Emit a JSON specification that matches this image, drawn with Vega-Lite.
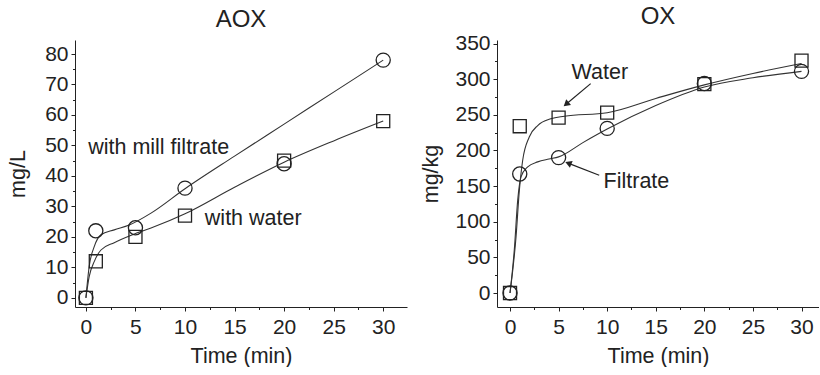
{
  "$schema": "https://vega.github.io/schema/vega-lite/v6.json",
  "padding": {"left": 7, "top": 4, "right": 0, "bottom": 0},
  "background": "white",
  "spacing": 90,
  "bounds": "flush",
  "config": {
    "font": "Liberation Sans",
    "view": {"stroke": null},
    "axis": {
      "grid": false,
      "domainColor": "#222",
      "tickColor": "#222",
      "domainWidth": 1,
      "tickWidth": 1,
      "tickSize": 4,
      "labelOverlap": false,
      "labelFlush": false,
      "labelFont": "Liberation Sans",
      "labelFontSize": 21,
      "labelColor": "#222",
      "titleFont": "Liberation Sans",
      "titleFontSize": 21.5,
      "titleFontWeight": "normal",
      "titleColor": "#222"
    },
    "title": {"font": "Liberation Sans", "fontSize": 24, "fontWeight": "normal", "color": "#222"}
  },
  "datasets": {
    "aoxPts": [
      {"series": "filtrate", "t": 0, "v": 0},
      {"series": "filtrate", "t": 1, "v": 22},
      {"series": "filtrate", "t": 5, "v": 23},
      {"series": "filtrate", "t": 10, "v": 36},
      {"series": "filtrate", "t": 20, "v": 44},
      {"series": "filtrate", "t": 30, "v": 78},
      {"series": "water", "t": 0, "v": 0},
      {"series": "water", "t": 1, "v": 12},
      {"series": "water", "t": 5, "v": 20},
      {"series": "water", "t": 10, "v": 27},
      {"series": "water", "t": 20, "v": 45},
      {"series": "water", "t": 30, "v": 58}
    ],
    "aoxCurve": [
      {"series": "filtrate", "t": 0, "v": 0},
      {"series": "filtrate", "t": 0.33, "v": 10.3},
      {"series": "filtrate", "t": 0.84, "v": 16.8},
      {"series": "filtrate", "t": 1.52, "v": 20.7},
      {"series": "filtrate", "t": 2.86, "v": 22.3},
      {"series": "filtrate", "t": 4.37, "v": 23.9},
      {"series": "filtrate", "t": 6.57, "v": 27.8},
      {"series": "filtrate", "t": 10, "v": 35.8},
      {"series": "filtrate", "t": 15, "v": 46.5},
      {"series": "filtrate", "t": 20, "v": 57},
      {"series": "filtrate", "t": 25, "v": 67.5},
      {"series": "filtrate", "t": 30, "v": 78},
      {"series": "water", "t": 0, "v": 0},
      {"series": "water", "t": 0.33, "v": 7},
      {"series": "water", "t": 0.84, "v": 11.9},
      {"series": "water", "t": 1.52, "v": 15.7},
      {"series": "water", "t": 2.86, "v": 18.1},
      {"series": "water", "t": 4.7, "v": 20.7},
      {"series": "water", "t": 6.57, "v": 22.9},
      {"series": "water", "t": 10, "v": 27.6},
      {"series": "water", "t": 15, "v": 36.3},
      {"series": "water", "t": 20, "v": 44.5},
      {"series": "water", "t": 25, "v": 51.5},
      {"series": "water", "t": 30, "v": 58}
    ],
    "aoxText": [
      {"label": "with mill filtrate", "t": 0.23, "v": 47.2},
      {"label": "with water", "t": 12.0, "v": 23.9}
    ],
    "oxPts": [
      {"series": "filtrate", "t": 0, "v": 0},
      {"series": "filtrate", "t": 1, "v": 167},
      {"series": "filtrate", "t": 5, "v": 190},
      {"series": "filtrate", "t": 10, "v": 231},
      {"series": "filtrate", "t": 20, "v": 294},
      {"series": "filtrate", "t": 30, "v": 311},
      {"series": "water", "t": 0, "v": 0},
      {"series": "water", "t": 1, "v": 234},
      {"series": "water", "t": 5, "v": 246},
      {"series": "water", "t": 10, "v": 253},
      {"series": "water", "t": 20, "v": 293},
      {"series": "water", "t": 30, "v": 326}
    ],
    "oxCurve": [
      {"series": "water", "t": 0, "v": 0},
      {"series": "water", "t": 0.62, "v": 79},
      {"series": "water", "t": 0.96, "v": 144},
      {"series": "water", "t": 1.3, "v": 186},
      {"series": "water", "t": 1.98, "v": 219},
      {"series": "water", "t": 2.85, "v": 235},
      {"series": "water", "t": 4.2, "v": 244.5},
      {"series": "water", "t": 5.6, "v": 248},
      {"series": "water", "t": 10, "v": 253},
      {"series": "water", "t": 15, "v": 273},
      {"series": "water", "t": 20, "v": 292},
      {"series": "water", "t": 25, "v": 308},
      {"series": "water", "t": 30, "v": 322},
      {"series": "filtrate", "t": 0, "v": 0},
      {"series": "filtrate", "t": 0.44, "v": 60.5},
      {"series": "filtrate", "t": 0.79, "v": 130},
      {"series": "filtrate", "t": 1.13, "v": 163},
      {"series": "filtrate", "t": 1.82, "v": 177},
      {"series": "filtrate", "t": 2.85, "v": 184},
      {"series": "filtrate", "t": 4, "v": 188},
      {"series": "filtrate", "t": 5, "v": 191},
      {"series": "filtrate", "t": 7.5, "v": 211},
      {"series": "filtrate", "t": 10, "v": 230},
      {"series": "filtrate", "t": 15, "v": 263},
      {"series": "filtrate", "t": 20, "v": 289},
      {"series": "filtrate", "t": 25, "v": 302},
      {"series": "filtrate", "t": 30, "v": 311}
    ],
    "oxText": [
      {"label": "Water", "t": 6.34, "v": 300.4},
      {"label": "Filtrate", "t": 9.63, "v": 146.7}
    ],
    "oxArrows": [
      {"label": "Water", "t1": 8.3, "v1": 293.8, "t2": 5.86, "v2": 265.9},
      {"label": "Filtrate", "t1": 9.18, "v1": 165.3, "t2": 6.1, "v2": 181.6}
    ]
  },
  "hconcat": [
    {
      "width": 332,
      "height": 267,
      "title": {"text": "AOX", "offset": 8},
      "layer": [
        {
          "data": {"name": "aoxCurve"},
          "mark": {"type": "line", "color": "#333", "strokeWidth": 1.1, "interpolate": "monotone"},
          "encoding": {
            "x": {
              "field": "t", "type": "quantitative",
              "scale": {"domain": [-1.1, 32.4], "nice": false, "zero": false},
              "axis": {"title": "Time (min)", "values": [0, 2.5, 5, 7.5, 10, 12.5, 15, 17.5, 20, 22.5, 25, 27.5, 30],
                       "tickCount": 100, "labelOverlap": false, "format": "d",
                       "tickSize": {"condition": {"test": "datum.value % 5 === 0", "value": 4}, "value": 2.5},
                       "labelExpr": "datum.value % 5 === 0 ? datum.label : ''", "labelPadding": 5, "titlePadding": 8}
            },
            "y": {
              "field": "v", "type": "quantitative",
              "scale": {"domain": [-3, 84.6], "nice": false, "zero": false},
              "axis": {"title": "mg/L", "values": [0, 5, 10, 15, 20, 25, 30, 35, 40, 45, 50, 55, 60, 65, 70, 75, 80],
                       "tickCount": 100, "labelOverlap": false,
                       "tickSize": {"condition": {"test": "datum.value % 10 === 0", "value": 4}, "value": 2.5},
                       "labelExpr": "datum.value % 10 === 0 ? datum.label : ''", "labelPadding": 3, "titlePadding": 15}
            },
            "detail": {"field": "series"}
          }
        },
        {
          "data": {"name": "aoxPts"},
          "mark": {"type": "point", "filled": false, "color": "#222", "strokeWidth": 1.3, "opacity": 1},
          "encoding": {
            "x": {"field": "t", "type": "quantitative"},
            "y": {"field": "v", "type": "quantitative"},
            "shape": {"field": "series", "type": "nominal", "scale": {"domain": ["filtrate", "water"], "range": ["circle", "square"]}, "legend": null},
            "size": {"field": "series", "type": "nominal", "scale": {"domain": ["filtrate", "water"], "range": [200, 170]}, "legend": null}
          }
        },
        {
          "data": {"name": "aoxText"},
          "mark": {"type": "text", "align": "left", "baseline": "alphabetic", "fontSize": 21.5, "color": "#222", "font": "Liberation Sans"},
          "encoding": {
            "x": {"field": "t", "type": "quantitative"},
            "y": {"field": "v", "type": "quantitative"},
            "text": {"field": "label"}
          }
        }
      ]
    },
    {
      "width": 322,
      "height": 267,
      "title": {"text": "OX", "offset": 4},
      "layer": [
        {
          "data": {"name": "oxCurve"},
          "mark": {"type": "line", "color": "#333", "strokeWidth": 1.1, "interpolate": "monotone"},
          "encoding": {
            "x": {
              "field": "t", "type": "quantitative",
              "scale": {"domain": [-1.34, 31.8], "nice": false, "zero": false},
              "axis": {"title": "Time (min)", "values": [0, 2.5, 5, 7.5, 10, 12.5, 15, 17.5, 20, 22.5, 25, 27.5, 30],
                       "tickCount": 100, "labelOverlap": false, "format": "d",
                       "tickSize": {"condition": {"test": "datum.value % 5 === 0", "value": 4}, "value": 2.5},
                       "labelExpr": "datum.value % 5 === 0 ? datum.label : ''", "labelPadding": 5, "titlePadding": 8}
            },
            "y": {
              "field": "v", "type": "quantitative",
              "scale": {"domain": [-19.6, 355], "nice": false, "zero": false},
              "axis": {"title": "mg/kg", "values": [0, 25, 50, 75, 100, 125, 150, 175, 200, 225, 250, 275, 300, 325, 350],
                       "tickCount": 100, "labelOverlap": false,
                       "tickSize": {"condition": {"test": "datum.value % 50 === 0", "value": 4}, "value": 2.5},
                       "labelExpr": "datum.value % 50 === 0 ? datum.label : ''", "labelPadding": 3, "titlePadding": 12}
            },
            "detail": {"field": "series"}
          }
        },
        {
          "data": {"name": "oxPts"},
          "mark": {"type": "point", "filled": false, "color": "#222", "strokeWidth": 1.3, "opacity": 1},
          "encoding": {
            "x": {"field": "t", "type": "quantitative"},
            "y": {"field": "v", "type": "quantitative"},
            "shape": {"field": "series", "type": "nominal", "scale": {"domain": ["filtrate", "water"], "range": ["circle", "square"]}, "legend": null},
            "size": {"field": "series", "type": "nominal", "scale": {"domain": ["filtrate", "water"], "range": [200, 170]}, "legend": null}
          }
        },
        {
          "data": {"name": "oxArrows"},
          "mark": {"type": "rule", "color": "#222", "strokeWidth": 1.2},
          "encoding": {
            "x": {"field": "t1", "type": "quantitative"},
            "y": {"field": "v1", "type": "quantitative"},
            "x2": {"field": "t2"},
            "y2": {"field": "v2"}
          }
        },
        {
          "data": {"name": "oxArrows"},
          "transform": [{"filter": "datum.label === 'Water'"}],
          "mark": {"type": "point", "shape": "triangle", "filled": true, "color": "#222", "size": 55, "angle": 230, "opacity": 1},
          "encoding": {
            "x": {"field": "t2", "type": "quantitative"},
            "y": {"field": "v2", "type": "quantitative"}
          }
        },
        {
          "data": {"name": "oxArrows"},
          "transform": [{"filter": "datum.label === 'Filtrate'"}],
          "mark": {"type": "point", "shape": "triangle", "filled": true, "color": "#222", "size": 55, "angle": 292, "opacity": 1},
          "encoding": {
            "x": {"field": "t2", "type": "quantitative"},
            "y": {"field": "v2", "type": "quantitative"}
          }
        },
        {
          "data": {"name": "oxText"},
          "mark": {"type": "text", "align": "left", "baseline": "alphabetic", "fontSize": 21.5, "color": "#222", "font": "Liberation Sans"},
          "encoding": {
            "x": {"field": "t", "type": "quantitative"},
            "y": {"field": "v", "type": "quantitative"},
            "text": {"field": "label"}
          }
        }
      ]
    }
  ]
}
